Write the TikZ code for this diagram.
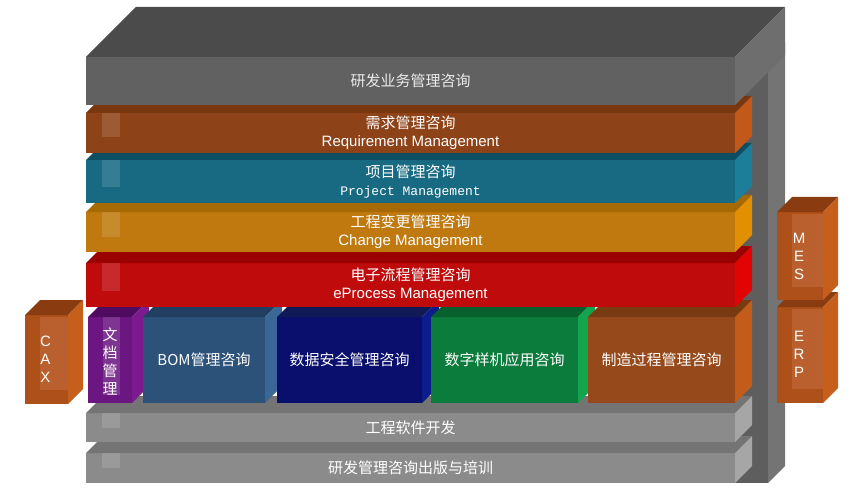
\documentclass[tikz,border=0pt]{standalone}
\usepackage{fontspec}
\setmainfont{Liberation Sans}
\newfontfamily\cjk{Noto Sans CJK SC}
\newfontfamily\mono{Liberation Mono}

% colours: front, top and side of each block
\definecolor{slabfront}{HTML}{616161}
\definecolor{slabtop}{HTML}{4B4B4B}
\definecolor{slabside}{HTML}{6E6E6E}
\definecolor{pillarfront}{HTML}{5E5E5E}
\definecolor{pillarside}{HTML}{747474}
\definecolor{reqfront}{HTML}{8E4218}
\definecolor{reqtop}{HTML}{7A360E}
\definecolor{reqside}{HTML}{C2591B}
\definecolor{projfront}{HTML}{186A82}
\definecolor{projtop}{HTML}{0E4E62}
\definecolor{projside}{HTML}{1C7E99}
\definecolor{chgfront}{HTML}{BF790E}
\definecolor{chgtop}{HTML}{A66903}
\definecolor{chgside}{HTML}{E38F02}
\definecolor{eprfront}{HTML}{BF0B0B}
\definecolor{eprtop}{HTML}{9A0202}
\definecolor{eprside}{HTML}{E20404}
\definecolor{grayfront}{HTML}{8B8B8B}
\definecolor{graytop}{HTML}{747474}
\definecolor{grayside}{HTML}{A6A6A6}
\definecolor{docfront}{HTML}{6B1681}
\definecolor{doctop}{HTML}{4E0B60}
\definecolor{docside}{HTML}{7C1B90}
\definecolor{bomfront}{HTML}{2C5279}
\definecolor{bomtop}{HTML}{213F60}
\definecolor{bomside}{HTML}{3A6795}
\definecolor{secfront}{HTML}{0A0E6C}
\definecolor{sectop}{HTML}{0F1A56}
\definecolor{secside}{HTML}{0C1C8C}
\definecolor{dmufront}{HTML}{0B7C3C}
\definecolor{dmutop}{HTML}{07602E}
\definecolor{dmuside}{HTML}{12A54E}
\definecolor{mfgfront}{HTML}{964A1C}
\definecolor{mfgtop}{HTML}{783A10}
\definecolor{mfgside}{HTML}{C35C1B}
\definecolor{sysfront}{HTML}{AE501A}
\definecolor{systop}{HTML}{8A3C10}
\definecolor{sysside}{HTML}{C65E1C}
\definecolor{syspanel}{HTML}{BA602E}

% top and side faces of a front node: node, top colour, side colour, depth
\newcommand{\boxfaces}[4]{%
  \fill[#2] (#1.north west) -- ++(#4,#4) -- ([shift={(#4,#4)}]#1.north east) -- (#1.north east) -- cycle;
  \fill[#3] (#1.north east) -- ++(#4,#4) -- ([shift={(#4,#4)}]#1.south east) -- (#1.south east) -- cycle;
}

\begin{document}
\begin{tikzpicture}[x=1pt, y=1pt,
    face/.style={inner sep=0pt, outer sep=0pt, text=white, align=center,
      font=\fontsize{15}{18}\selectfont},
    shine/.style={fill=white, opacity=0.13}]
    \useasboundingbox (0,0) rectangle (868,-500);

    % Back pillar
    \node[face, fill=pillarfront, minimum width=33, minimum height=423] (pillar) at (751.5,-271.5) {};
    \boxfaces{pillar}{pillarside}{pillarside}{17}

    % Bottom bands
    \node[face, fill=grayfront, minimum width=649, minimum height=30] (train) at (410.5,-468) {\cjk 研发管理咨询出版与培训};
    \boxfaces{train}{graytop}{grayside}{17}
    \fill[shine] ([shift={(16,0)}]train.north west) rectangle ++(18,-15);

    \node[face, fill=grayfront, minimum width=649, minimum height=29] (soft) at (410.5,-427.5) {\cjk 工程软件开发};
    \boxfaces{soft}{graytop}{grayside}{17}
    \fill[shine] ([shift={(16,0)}]soft.north west) rectangle ++(18,-15);

    % Middle row of blocks
    \node[face, fill=docfront, minimum width=44, minimum height=86] (doc) at (110,-360) {};
    \boxfaces{doc}{doctop}{docside}{17}
    \fill[shine] ([shift={(15,0)}]doc.north west) rectangle ++(17,-78);
    \node[face, font=\cjk\fontsize{15}{18}\selectfont] at ([yshift=-1]doc.center) {文\\档\\管\\理};

    \node[face, fill=bomfront, minimum width=122, minimum height=86] (bom) at (204,-360) {\cjk BOM管理咨询};
    \boxfaces{bom}{bomtop}{bomside}{17}

    \node[face, fill=secfront, minimum width=145, minimum height=86] (sec) at (349.5,-360) {\cjk 数据安全管理咨询};
    \boxfaces{sec}{sectop}{secside}{17}

    \node[face, fill=dmufront, minimum width=147, minimum height=86] (dmu) at (504.5,-360) {\cjk 数字样机应用咨询};
    \boxfaces{dmu}{dmutop}{dmuside}{17}

    \node[face, fill=mfgfront, minimum width=147, minimum height=86] (mfg) at (661.5,-360) {\cjk 制造过程管理咨询};
    \boxfaces{mfg}{mfgtop}{mfgside}{17}

    % Consulting bands
    \node[face, fill=eprfront, minimum width=649, minimum height=44] (epr) at (410.5,-285) {{\cjk 电子流程管理咨询}\\eProcess Management};
    \boxfaces{epr}{eprtop}{eprside}{17}
    \fill[shine] ([shift={(16,0)}]epr.north west) rectangle ++(18,-28);

    \node[face, fill=chgfront, minimum width=649, minimum height=40] (chg) at (410.5,-232) {{\cjk 工程变更管理咨询}\\Change Management};
    \boxfaces{chg}{chgtop}{chgside}{17}
    \fill[shine] ([shift={(16,0)}]chg.north west) rectangle ++(18,-25);

    \node[face, fill=projfront, minimum width=649, minimum height=43] (proj) at (410.5,-181.5) {{\cjk 项目管理咨询}\\{\mono\fontsize{13}{18}\selectfont Project Management}};
    \boxfaces{proj}{projtop}{projside}{17}
    \fill[shine] ([shift={(16,0)}]proj.north west) rectangle ++(18,-27);

    \node[face, fill=reqfront, minimum width=649, minimum height=40] (req) at (410.5,-133) {{\cjk 需求管理咨询}\\Requirement Management};
    \boxfaces{req}{reqtop}{reqside}{17}
    \fill[shine] ([shift={(16,0)}]req.north west) rectangle ++(18,-24);

    % Top slab
    \node[face, fill=slabfront, minimum width=649, minimum height=48, text=white!92!black] (slab) at (410.5,-81) {\cjk 研发业务管理咨询};
    \boxfaces{slab}{slabtop}{slabside}{50}

    % Side systems
    \node[face, fill=sysfront, minimum width=43, minimum height=89] (cax) at (46.5,-359.5) {};
    \boxfaces{cax}{systop}{sysside}{15}
    \fill[syspanel] ([shift={(15,14)}]cax.south west) rectangle ([shift={(0,-2)}]cax.north east);
    \node[face] at ([xshift=-1]cax.center) {C\\A\\X};

    \node[face, fill=sysfront, minimum width=46, minimum height=96] (erp) at (800,-355) {};
    \boxfaces{erp}{systop}{sysside}{15}
    \fill[syspanel] ([shift={(15,14)}]erp.south west) rectangle ([shift={(0,-2)}]erp.north east);
    \node[face] at ([shift={(-1,1)}]erp.center) {E\\R\\P};

    \node[face, fill=sysfront, minimum width=46, minimum height=88] (mes) at (800,-256) {};
    \boxfaces{mes}{systop}{sysside}{15}
    \fill[syspanel] ([shift={(15,13)}]mes.south west) rectangle ([shift={(0,-2)}]mes.north east);
    \node[face] at ([xshift=-1]mes.center) {M\\E\\S};
\end{tikzpicture}
\end{document}
